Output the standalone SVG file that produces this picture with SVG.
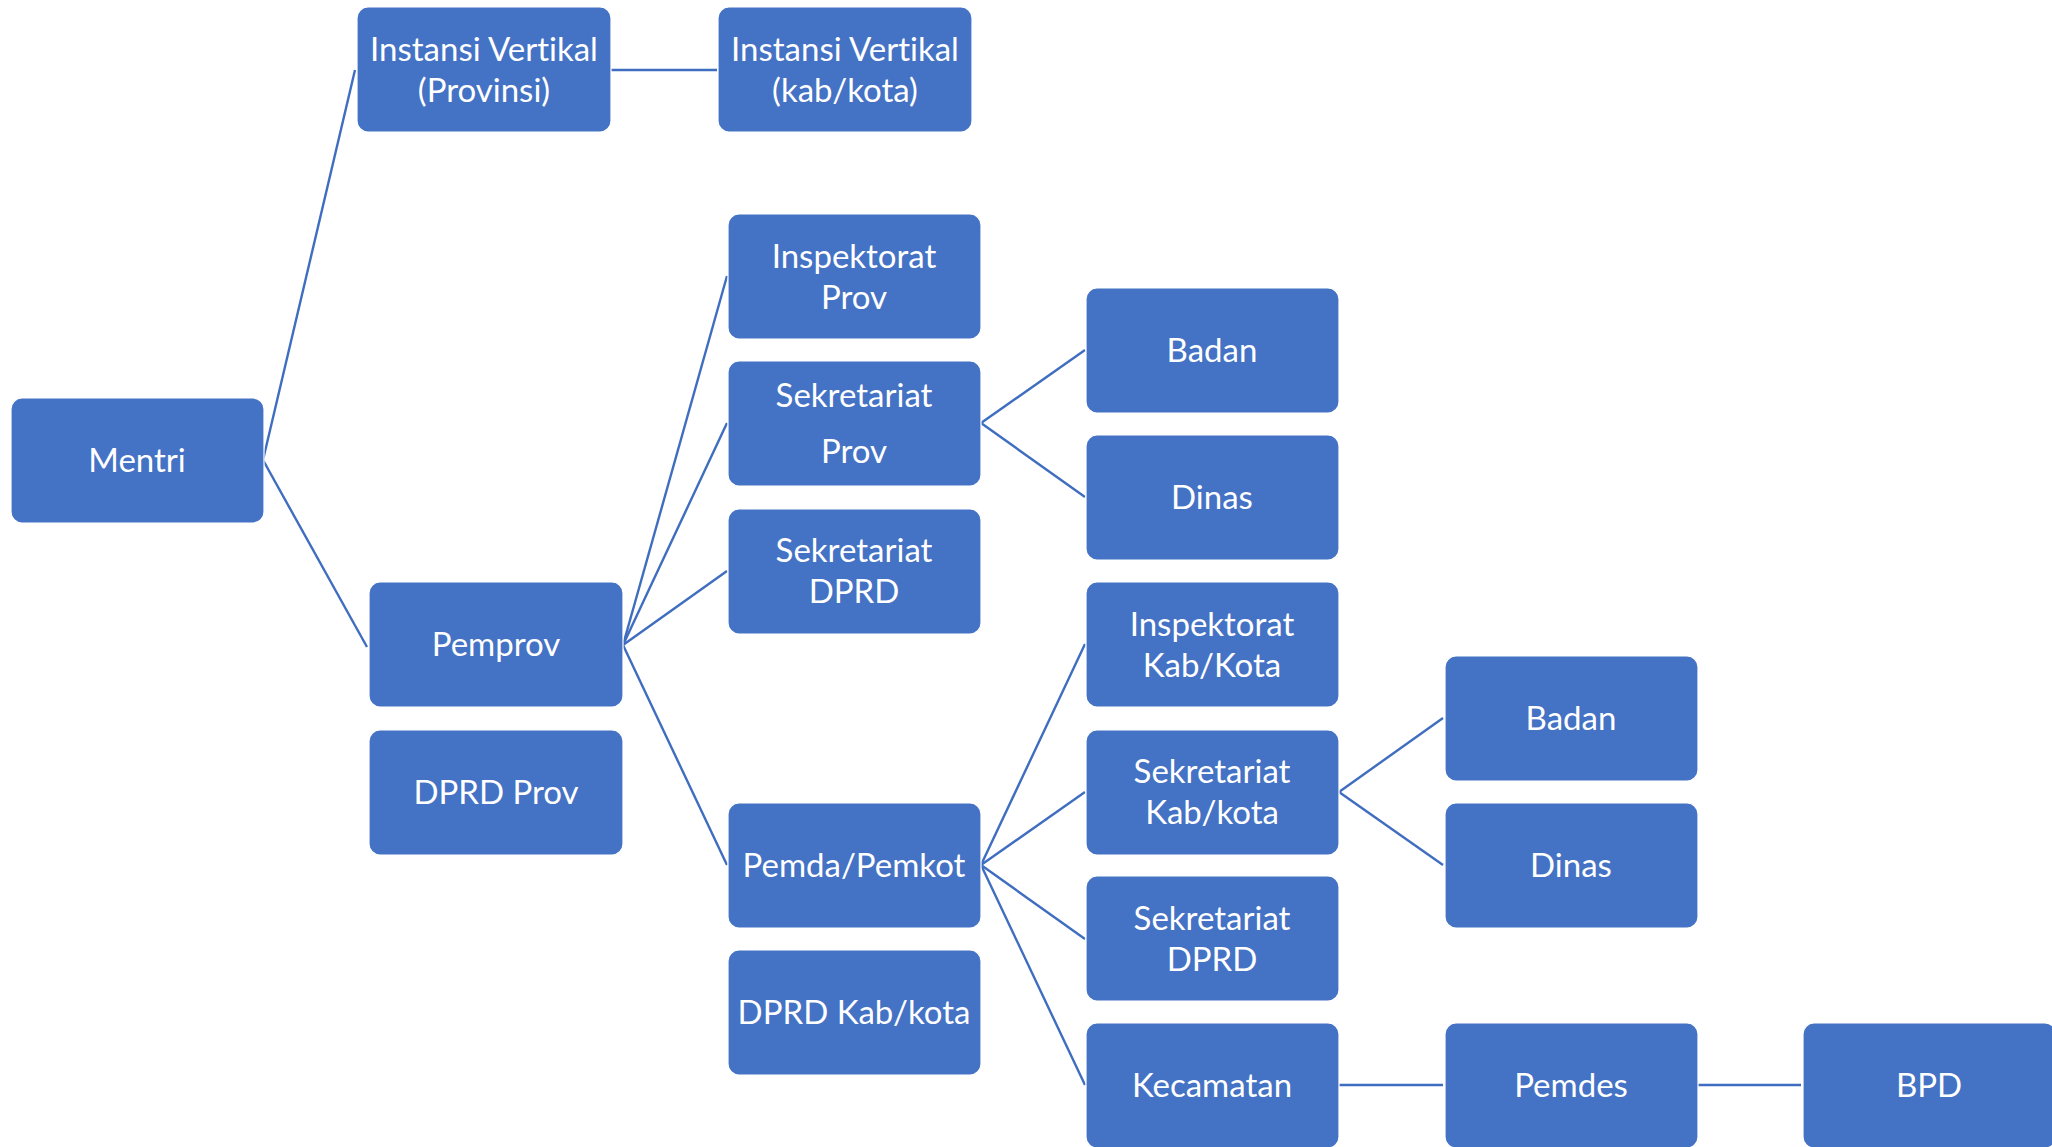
<svg xmlns="http://www.w3.org/2000/svg" width="2052" height="1147" viewBox="0 0 2052 1147">
<style>
.box{fill:#4472C4;stroke:#ffffff;stroke-width:1.2}
.t{font-family:"Lato","Open Sans","Liberation Sans",sans-serif;font-size:33px;fill:#ffffff;text-anchor:middle;dominant-baseline:central;font-variant-ligatures:none}
.c{stroke:#3F6DBF;stroke-width:2.4;fill:none}
</style>
<rect width="2052" height="1147" fill="#ffffff"/>
<g id="connectors">
<line class="c" x1="263" y1="460" x2="355" y2="70"/>
<line class="c" x1="263" y1="460" x2="367" y2="647"/>
<line class="c" x1="611" y1="70" x2="717" y2="70"/>
<line class="c" x1="623" y1="645" x2="727" y2="276"/>
<line class="c" x1="623" y1="645" x2="727" y2="423"/>
<line class="c" x1="623" y1="645" x2="727" y2="571"/>
<line class="c" x1="623" y1="645" x2="727" y2="865"/>
<line class="c" x1="981" y1="423" x2="1085" y2="350"/>
<line class="c" x1="981" y1="423" x2="1085" y2="497"/>
<line class="c" x1="981" y1="865" x2="1085" y2="644"/>
<line class="c" x1="981" y1="865" x2="1085" y2="792"/>
<line class="c" x1="981" y1="865" x2="1085" y2="939"/>
<line class="c" x1="981" y1="865" x2="1085" y2="1085"/>
<line class="c" x1="1339" y1="792" x2="1443" y2="718"/>
<line class="c" x1="1339" y1="792" x2="1443" y2="865"/>
<line class="c" x1="1339" y1="1085" x2="1443" y2="1085"/>
<line class="c" x1="1698" y1="1085" x2="1801" y2="1085"/>
</g>
<g id="mentri"><rect class="box" x="11" y="398" width="253" height="125" rx="11"/><text class="t" x="137" y="459">Mentri</text></g>
<g id="instansi-prov"><rect class="box" x="357" y="7" width="254" height="125" rx="11"/><text class="t" x="484" y="48">Instansi Vertikal</text><text class="t" x="484" y="89">(Provinsi)</text></g>
<g id="instansi-kab"><rect class="box" x="718" y="7" width="254" height="125" rx="11"/><text class="t" x="845" y="48">Instansi Vertikal</text><text class="t" x="845" y="89">(kab/kota)</text></g>
<g id="pemprov"><rect class="box" x="369" y="582" width="254" height="125" rx="11"/><text class="t" x="496" y="643">Pemprov</text></g>
<g id="dprd-prov"><rect class="box" x="369" y="730" width="254" height="125" rx="11"/><text class="t" x="496" y="791">DPRD Prov</text></g>
<g id="inspektorat-prov"><rect class="box" x="728" y="214" width="253" height="125" rx="11"/><text class="t" x="854" y="255">Inspektorat</text><text class="t" x="854" y="296">Prov</text></g>
<g id="sekretariat-prov"><rect class="box" x="728" y="361" width="253" height="125" rx="11"/><text class="t" x="854" y="394">Sekretariat</text><text class="t" x="854" y="450">Prov</text></g>
<g id="sekretariat-dprd-prov"><rect class="box" x="728" y="509" width="253" height="125" rx="11"/><text class="t" x="854" y="549">Sekretariat</text><text class="t" x="854" y="590">DPRD</text></g>
<g id="pemda-pemkot"><rect class="box" x="728" y="803" width="253" height="125" rx="11"/><text class="t" x="854" y="864">Pemda/Pemkot</text></g>
<g id="dprd-kab"><rect class="box" x="728" y="950" width="253" height="125" rx="11"/><text class="t" x="854" y="1011">DPRD Kab/kota</text></g>
<g id="badan-prov"><rect class="box" x="1086" y="288" width="253" height="125" rx="11"/><text class="t" x="1212" y="349">Badan</text></g>
<g id="dinas-prov"><rect class="box" x="1086" y="435" width="253" height="125" rx="11"/><text class="t" x="1212" y="496">Dinas</text></g>
<g id="inspektorat-kab"><rect class="box" x="1086" y="582" width="253" height="125" rx="11"/><text class="t" x="1212" y="623">Inspektorat</text><text class="t" x="1212" y="664">Kab/Kota</text></g>
<g id="sekretariat-kab"><rect class="box" x="1086" y="730" width="253" height="125" rx="11"/><text class="t" x="1212" y="770">Sekretariat</text><text class="t" x="1212" y="811">Kab/kota</text></g>
<g id="sekretariat-dprd-kab"><rect class="box" x="1086" y="876" width="253" height="125" rx="11"/><text class="t" x="1212" y="917">Sekretariat</text><text class="t" x="1212" y="958">DPRD</text></g>
<g id="kecamatan"><rect class="box" x="1086" y="1023" width="253" height="125" rx="11"/><text class="t" x="1212" y="1084">Kecamatan</text></g>
<g id="badan-kab"><rect class="box" x="1445" y="656" width="253" height="125" rx="11"/><text class="t" x="1571" y="717">Badan</text></g>
<g id="dinas-kab"><rect class="box" x="1445" y="803" width="253" height="125" rx="11"/><text class="t" x="1571" y="864">Dinas</text></g>
<g id="pemdes"><rect class="box" x="1445" y="1023" width="253" height="125" rx="11"/><text class="t" x="1571" y="1084">Pemdes</text></g>
<g id="bpd"><rect class="box" x="1803" y="1023" width="253" height="125" rx="11"/><text class="t" x="1929" y="1084">BPD</text></g>
</svg>
